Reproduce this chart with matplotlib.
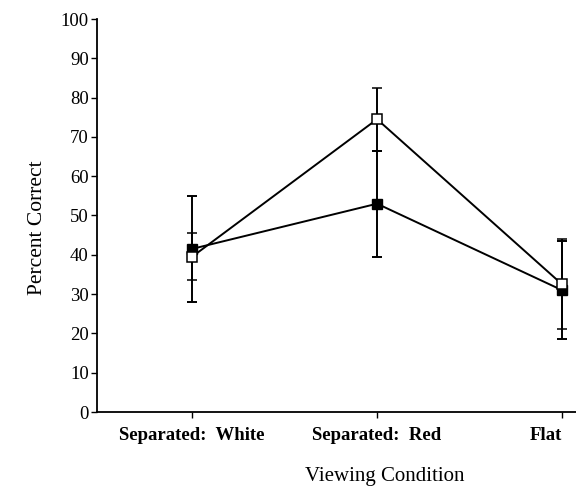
import matplotlib.pyplot as plt
import numpy as np

conditions = ['Separated:  White', 'Separated:  Red', 'Flat']
open_mean = [39.5, 74.5, 32.5]
open_err = [6.0, 8.0, 11.5]
filled_mean = [41.5, 53.0, 31.0]
filled_err = [13.5, 13.5, 12.5]
yticks = [0, 10, 20, 30, 40, 50, 60, 70, 80, 90, 100]

plt.rcParams['font.family'] = ['Liberation Serif', 'DejaVu Serif']

fig = plt.figure(figsize=(5.76, 4.94), dpi=100)
# axes run off the right edge, like the cropped scan
ax = fig.add_axes([97 / 576, 82 / 494, 576 / 576, 393 / 494])

x = np.arange(len(conditions))
ax.errorbar(x, filled_mean, yerr=filled_err, color='black', lw=1.4,
            marker='s', ms=6.5, mfc='black', mec='black',
            capsize=3.5, capthick=1.4, elinewidth=1.4, zorder=3)
ax.errorbar(x, open_mean, yerr=open_err, color='black', lw=1.4,
            marker='s', ms=6.5, mfc='white', mec='black', mew=1.1,
            capsize=3.5, capthick=1.4, elinewidth=1.4, zorder=4)

ax.set_xlim(-0.514, 2.6)
ax.set_ylim(0, 100)
ax.set_yticks(yticks)
ax.set_xticks(x)
ax.set_xticklabels(conditions, fontsize=13.5, fontweight='bold')
# the last label is cut by the scan edge; keep it inside the picture
ax.get_xticklabels()[-1].set_horizontalalignment('right')
ax.tick_params(axis='y', direction='out', length=4, width=1, labelsize=13.5, pad=2)
ax.tick_params(axis='x', direction='out', length=4, width=1, pad=7)

ax.spines['top'].set_visible(False)
ax.spines['right'].set_visible(False)
ax.spines['left'].set_linewidth(1.3)
ax.spines['bottom'].set_linewidth(1.3)

ax.set_xlabel('Viewing Condition', fontsize=15, labelpad=16)
ax.set_ylabel('Percent Correct', fontsize=15.5)
ax.yaxis.set_label_coords(-0.087, 0.47)

fig.savefig('out.png', dpi=100)
